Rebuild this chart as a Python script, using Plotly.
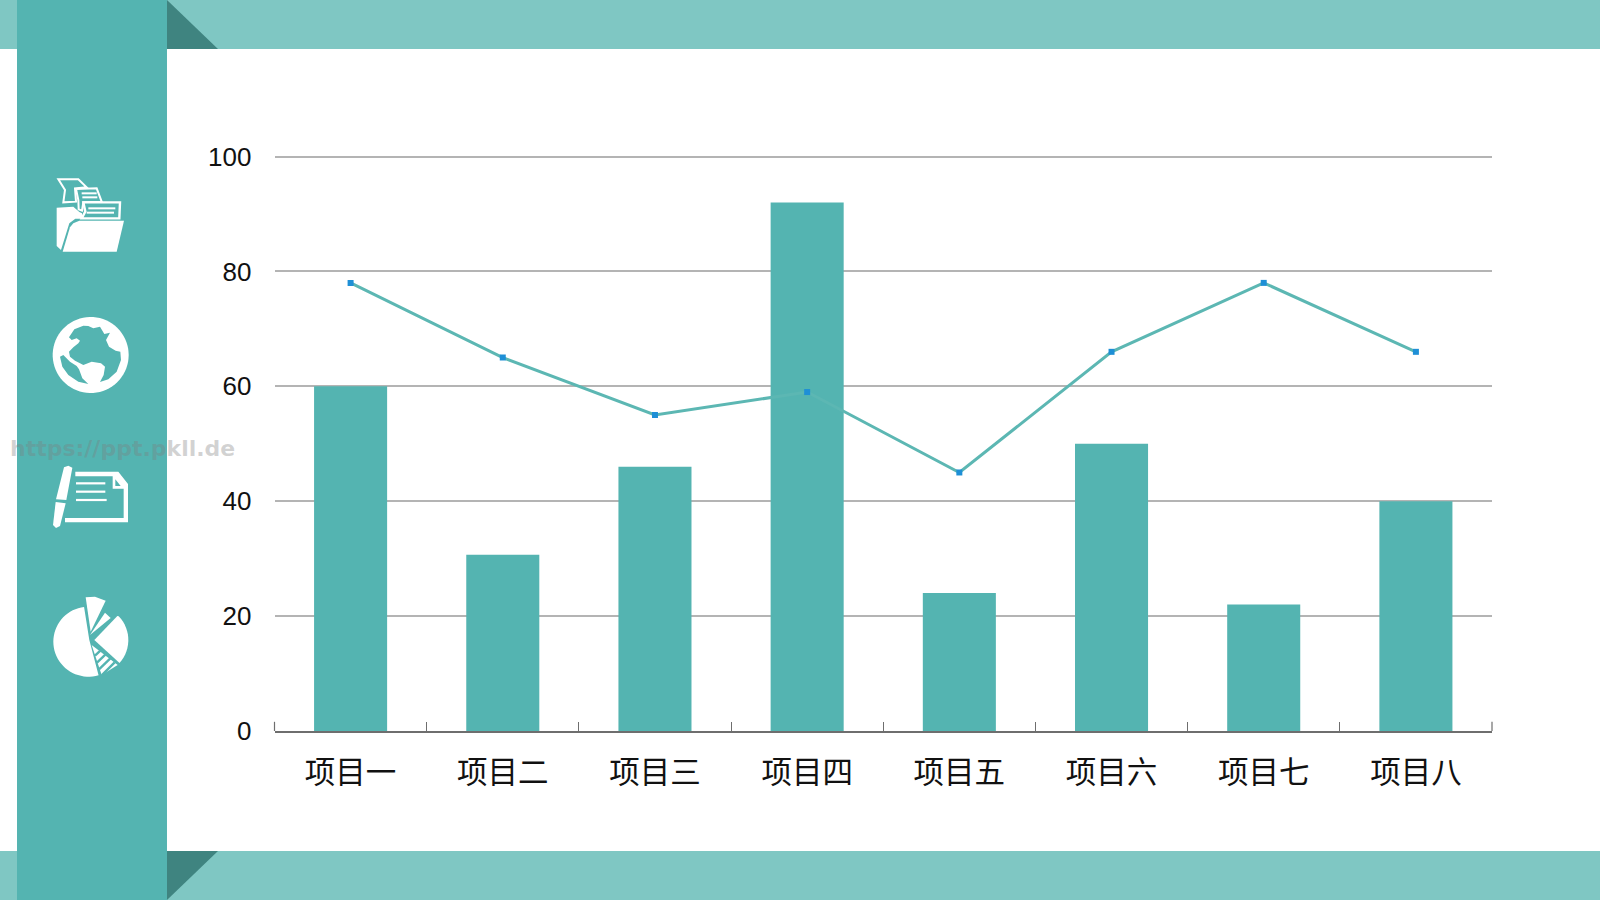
import numpy as np
import plotly.graph_objects as go

# Chart data
categories = ["项目一", "项目二", "项目三", "项目四", "项目五", "项目六", "项目七", "项目八"]
bar_values = [60, 30.7, 46, 92, 24, 50, 22, 40]
line_values = [78, 65, 55, 59, 45, 66, 78, 66]
y_ticks = [0, 20, 40, 60, 80, 100]

W, H = 1600, 900
TEAL = "#54B4B1"
BAND = "#7FC7C3"
FOLD = "#3F8480"
WHITE = "#FFFFFF"
AXIS = "#6E6E6E"

shapes = []


def fx(x):
    return x / W


def fy(y):
    return 1 - y / H


def poly(points, fill=WHITE, line=None, width=0, closed=True):
    """Add a pixel-space polygon or polyline as a paper-referenced shape."""
    d = "M" + " L".join(f"{fx(x):.5f},{fy(y):.5f}" for x, y in points)
    if closed:
        d += " Z"
    shapes.append(dict(
        type="path", path=d, xref="paper", yref="paper", layer="below",
        fillcolor=fill if closed else "rgba(0,0,0,0)",
        line=dict(color=line or "rgba(0,0,0,0)", width=width),
    ))


def rect(x0, y0, x1, y1, fill):
    poly([(x0, y0), (x1, y0), (x1, y1), (x0, y1)], fill)


def arc(cx, cy, r, a0, a1, n=40):
    t = np.radians(np.linspace(a0, a1, n))
    return [(cx + r * np.cos(a), cy + r * np.sin(a)) for a in t]


def local(ox, oy):
    """Icon outlines are authored at 3x around a local origin."""
    return lambda pts: [(ox + x / 3, oy + y / 3) for x, y in pts]


# Page frame
rect(0, 0, W, 49, BAND)
rect(0, 851, W, H, BAND)
rect(17, 0, 167, H, TEAL)
poly([(167, 0), (218, 49), (167, 49)], FOLD)
poly([(167, 851), (218, 851), (167, 900)], FOLD)

# Folder icon
p = local(50, 170)
poly(p([(20, 113), (70, 110), (88, 126), (96, 130), (96, 146), (76, 146), (58, 160), (33, 240), (20, 228)]))
poly(p([(25, 28), (85, 28), (110, 52), (75, 55), (78, 95), (40, 97), (45, 60)]), TEAL, WHITE, 2)
poly(p([(78, 57), (140, 55), (155, 95), (100, 97), (96, 122), (86, 118), (85, 90)]), TEAL, WHITE, 2)
poly(p([(100, 97), (210, 97), (208, 145), (95, 145), (106, 125)]), TEAL, WHITE, 2.4)
for seg in ([(95, 70), (140, 70)], [(97, 82), (142, 82)], [(115, 115), (196, 115)], [(110, 128), (192, 128)]):
    poly(p(seg), line=WHITE, width=2, closed=False)
poly(p([(38, 245), (200, 245), (222, 152), (88, 152), (70, 160), (60, 172)]))

# Globe icon
p = local(45, 310)
poly(p(arc(137, 135, 114, 0, 360, 72)))
poly(p([(88, 58), (115, 47), (130, 48), (145, 55), (165, 50), (178, 72), (195, 68), (183, 90), (192, 110),
        (212, 122), (226, 125), (228, 150), (215, 185), (190, 208), (165, 216), (176, 195), (180, 170),
        (168, 160), (140, 155), (115, 165), (105, 160), (90, 152), (75, 140), (72, 125), (85, 112),
        (100, 100), (105, 92), (95, 85), (80, 90), (72, 82)]), TEAL)
poly(p([(45, 140), (55, 135), (75, 155), (95, 168), (102, 178), (112, 205), (130, 222), (100, 215),
        (70, 195), (52, 170)]), TEAL)

# Document-and-pen icon
p = local(0, 420)
poly(p([(226, 155), (355, 155), (384, 192), (384, 307), (195, 307), (195, 294),
        (371, 294), (371, 206), (338, 206), (338, 169), (226, 169)]))
poly(p([(346, 178), (362, 198), (346, 198)]), TEAL)
for y in (190, 215, 240):
    poly(p([(228, y), (316 if y < 240 else 320, y)]), line=WHITE, width=2.2, closed=False)
poly(p([(192, 142), (205, 137), (217, 143), (199, 240), (168, 238)]))
poly(p([(167, 246), (197, 250), (180, 318), (168, 324), (159, 315)]))

# Pie-chart icon
p = local(45, 590)
poly(p([(122, 22), (150, 20), (182, 32), (137, 125)]))
poly(p([(135, 135), (180, 68), (197, 84)]))
poly(p([(148, 150), (217, 78)] + arc(147, 150, 103, -44, 42, 16)))
poly(p(arc(130, 155, 105, 263, 73, 40) + [(133, 150)]))
poly(p([(140, 165), (218, 225), (170, 255)]))
for x0, y0, x1, y1 in [(150, 197, 166, 182), (156, 218, 181, 194),
                       (162, 238, 196, 205), (170, 256, 209, 217)]:
    poly(p([(x0, y0), (x1, y1)]), line=TEAL, width=2.4, closed=False)

# Plot area in pixels; the value axis runs just past 100 so its top gridline is drawn
PLOT_L, PLOT_R, PLOT_B = 274.5, 1492, 731
PX_PER_UNIT = 5.745
Y_MAX = 101
PLOT_T = PLOT_B - Y_MAX * PX_PER_UNIT

# Tick marks at both ends of the category axis
for edge in (0, 1):
    shapes.append(dict(
        type="line", xref="x domain", yref="y", layer="above",
        x0=edge, x1=edge, y0=0, y1=1.6, line=dict(color=AXIS, width=1.2),
    ))

fig = go.Figure()
fig.add_bar(x=categories, y=bar_values, marker=dict(color=TEAL, line_width=0), width=0.48)
fig.add_scatter(
    x=categories, y=line_values, mode="lines+markers",
    line=dict(color="#5CB7B3", width=3),
    marker=dict(symbol="square", size=6, color="#1E8FD6"),
)

fig.update_layout(
    width=W, height=H,
    margin=dict(l=0, r=0, t=0, b=0),
    paper_bgcolor=WHITE, plot_bgcolor="rgba(0,0,0,0)",
    showlegend=False,
    shapes=shapes,
    xaxis=dict(
        domain=[fx(PLOT_L), fx(PLOT_R)], automargin=False,
        type="category", tickson="boundaries", ticks="inside", ticklen=9,
        tickwidth=1.2, tickcolor=AXIS,
        showline=True, linecolor=AXIS, linewidth=1.5,
        showgrid=False, zeroline=False,
        tickfont=dict(family="Noto Sans CJK SC", size=30.5, color="#111111"),
        ticklabelstandoff=14,
    ),
    yaxis=dict(
        domain=[fy(PLOT_B), fy(PLOT_T)], automargin=False,
        range=[0, Y_MAX], tickvals=y_ticks, ticks="",
        showline=False, zeroline=False,
        gridcolor="#B4B4B4", gridwidth=1.5,
        tickfont=dict(family="Liberation Sans", size=26, color="#111111"),
        ticklabelstandoff=22,
    ),
    annotations=[dict(
        text="https://ppt.pkll.de", xref="paper", yref="paper",
        x=fx(122), y=fy(448), xanchor="center", yanchor="middle", showarrow=False,
        font=dict(family="DejaVu Sans", size=22, color="rgba(125,125,125,0.35)", weight="bold"),
    )],
)

fig.write_html("out.html")
